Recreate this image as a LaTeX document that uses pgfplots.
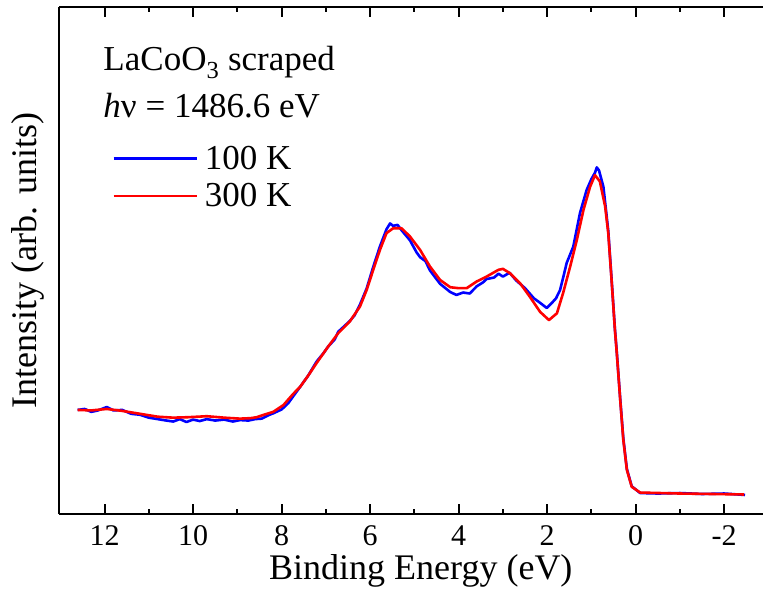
\documentclass[border=0pt]{standalone}
\usepackage{fontspec}
\setmainfont{Liberation Serif}
\usepackage{pgfplots}
\pgfplotsset{compat=1.18}
\begin{document}
\begin{tikzpicture}
\useasboundingbox (0,0) rectangle (763pt,590pt);
\begin{axis}[
  at={(59pt,76pt)}, anchor=south west,
  scale only axis, width=704pt, height=507pt,
  x dir=reverse, xmin=-2.876, xmax=13.03, ymin=-0.414, ymax=10.08,
  axis x line=box, axis y line*=left,
  axis line style={line width=2pt},
  xtick={-2,0,2,4,6,8,10,12}, minor x tick num=1,
  ytick=\empty, minor ytick={0,1.006,...,9.6},
  tick align=inside,
  major tick length=10pt, minor tick length=5pt,
  tick style={line width=2pt, black},
  /pgf/number format/assume math mode=true,
  tick label style={font=\fontsize{30}{36}\selectfont},
  xticklabel style={yshift=-8pt},
  every axis x label/.style={at={(axis description cs:0.514,-0.112)},anchor=center},
  every axis y label/.style={at={(axis description cs:-0.044,0.5)},anchor=center,rotate=90},
  label style={font=\fontsize{36}{42}\selectfont},
  xlabel={Binding Energy (eV)},
  ylabel={Intensity (arb. units)},
  legend style={at={(axis description cs:0.0757,0.73)}, anchor=north west, draw=none, fill=none,
    inner sep=0pt, outer sep=0pt, font=\fontsize{35}{40}\selectfont, row sep=9pt,
    column sep=5pt},
  legend cell align=left,
  legend image code/.code={\draw[#1] (0pt,0pt) -- (83pt,0pt);},
  clip=false,
]
\addplot[blue, line width=2.6pt, line join=round] coordinates {
(12.61,1.74) (12.45,1.76) (12.3,1.70) (12.15,1.73) (11.95,1.80) (11.8,1.73) (11.6,1.74)
(11.4,1.66) (11.2,1.64) (11.0,1.58) (10.8,1.55) (10.6,1.52) (10.45,1.50) (10.3,1.55)
(10.15,1.49) (10.0,1.54) (9.85,1.51) (9.69,1.55) (9.5,1.52) (9.3,1.54) (9.1,1.50)
(8.94,1.53) (8.75,1.52) (8.6,1.55) (8.45,1.56) (8.3,1.63) (8.19,1.67) (8.0,1.75)
(7.85,1.88) (7.74,2.02) (7.58,2.22) (7.4,2.45) (7.21,2.74) (7.05,2.92) (6.95,3.05)
(6.8,3.20) (6.72,3.36) (6.6,3.46) (6.46,3.58) (6.35,3.70) (6.23,3.92) (6.08,4.25)
(5.93,4.70) (5.78,5.12) (5.63,5.48) (5.55,5.60) (5.48,5.55) (5.38,5.57) (5.29,5.46)
(5.10,5.25) (4.95,5.00) (4.87,4.90) (4.75,4.82) (4.65,4.63) (4.42,4.35) (4.19,4.18)
(4.05,4.12) (3.9,4.17) (3.75,4.15) (3.59,4.30) (3.45,4.38) (3.37,4.45) (3.20,4.48)
(3.10,4.56) (3.0,4.50) (2.85,4.58) (2.7,4.42) (2.5,4.26) (2.3,4.05) (2.15,3.95)
(2.01,3.85) (1.90,3.95) (1.80,4.05) (1.71,4.22) (1.62,4.55) (1.56,4.78) (1.41,5.12)
(1.26,5.81) (1.11,6.29) (1.0,6.52) (0.92,6.65) (0.88,6.76) (0.83,6.70) (0.73,6.36)
(0.62,5.45) (0.54,4.38) (0.51,3.97) (0.47,3.42) (0.43,2.97) (0.35,1.97) (0.28,1.15)
(0.20,0.52) (0.09,0.16) (-0.10,0.02) (-0.5,0.01) (-1.0,0.02) (-1.5,0.00) (-2.0,0.01)
(-2.47,-0.02)
};
\addlegendentry{100 K}
\addplot[red, line width=2.6pt, line join=round] coordinates {
(12.61,1.74) (12.3,1.73) (11.95,1.76) (11.6,1.72) (11.2,1.66) (10.8,1.60) (10.45,1.58)
(10.1,1.59) (9.69,1.61) (9.3,1.58) (8.94,1.56) (8.7,1.57) (8.56,1.59) (8.4,1.64)
(8.19,1.70) (7.96,1.84) (7.74,2.07) (7.58,2.22) (7.4,2.45) (7.21,2.71) (6.95,3.05)
(6.72,3.33) (6.46,3.57) (6.23,3.88) (6.08,4.22) (5.93,4.64) (5.78,5.05) (5.63,5.40)
(5.48,5.50) (5.29,5.50) (5.10,5.33) (4.87,5.05) (4.65,4.71) (4.42,4.43) (4.19,4.28)
(4.0,4.26) (3.82,4.26) (3.59,4.40) (3.37,4.50) (3.10,4.64) (3.0,4.66) (2.84,4.57)
(2.61,4.36) (2.39,4.08) (2.16,3.77) (1.96,3.60) (1.78,3.74) (1.64,4.16) (1.48,4.71)
(1.33,5.26) (1.18,5.88) (1.03,6.36) (0.92,6.60) (0.81,6.47) (0.69,5.95) (0.62,5.40)
(0.54,4.36) (0.51,3.95) (0.47,3.40) (0.43,2.95) (0.35,1.95) (0.28,1.12) (0.20,0.50)
(0.09,0.15) (-0.10,0.03) (-1.0,0.01) (-2.45,-0.01)
};
\addlegendentry{300 K}
\node[anchor=base west, font=\fontsize{35}{40}\selectfont] at (axis description cs:0.0582,0.874) {LaCoO\textsubscript{3} scraped};
\node[anchor=base west, font=\fontsize{35}{40}\selectfont] at (axis description cs:0.0582,0.782) {\textit{h}ν = 1486.6 eV};
\end{axis}
\end{tikzpicture}
\end{document}
